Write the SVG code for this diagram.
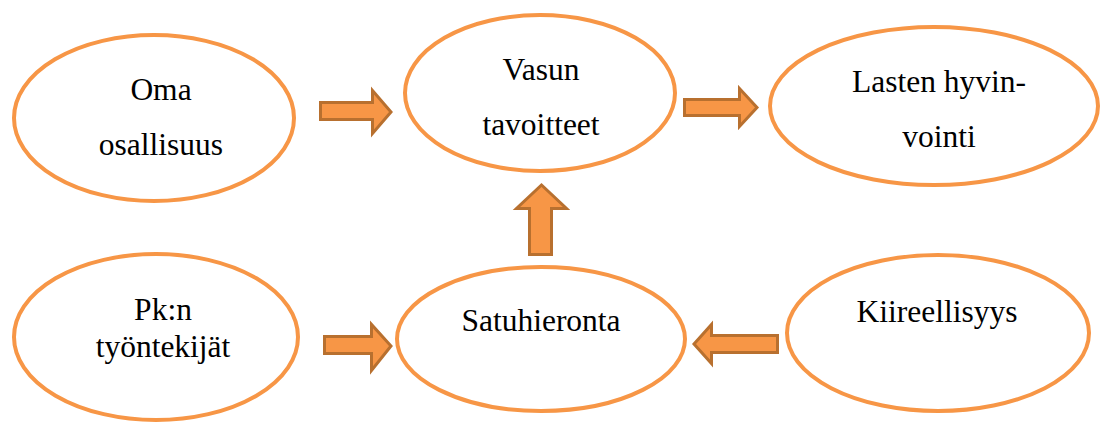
<svg xmlns="http://www.w3.org/2000/svg" width="1105" height="424" viewBox="0 0 1105 424">
<style>
.node ellipse{fill:#fff;stroke:#F79646;stroke-width:4}
.node text{font-size:31.5px;fill:#000;text-anchor:middle}
.arrow{fill:#F79646;stroke:#B8702F;stroke-width:3;stroke-linejoin:miter}
</style>
<rect width="1105" height="424" fill="#fff"/>
<g font-family="Liberation Serif, Times New Roman, DejaVu Serif, serif">
<g id="oma" class="node">
<ellipse cx="154" cy="118" rx="140" ry="83"/>
<text x="161" y="100">Oma</text>
<text x="161" y="155">osallisuus</text>
</g>
<g id="vasun" class="node">
<ellipse cx="540" cy="93" rx="135" ry="78"/>
<text x="541" y="80">Vasun</text>
<text x="541" y="135">tavoitteet</text>
</g>
<g id="lasten" class="node">
<ellipse cx="934" cy="106" rx="164" ry="79"/>
<text x="939" y="92">Lasten hyvin-</text>
<text x="939" y="147">vointi</text>
</g>
<g id="pkn" class="node">
<ellipse cx="156" cy="337" rx="142" ry="83"/>
<text x="163" y="320">Pk:n</text>
<text x="163" y="357">työntekijät</text>
</g>
<g id="satuhieronta" class="node">
<ellipse cx="541" cy="339" rx="144" ry="72"/>
<text x="541" y="331">Satuhieronta</text>
</g>
<g id="kiireellisyys" class="node">
<ellipse cx="938" cy="333" rx="151" ry="78"/>
<text x="937" y="322">Kiireellisyys</text>
</g>
</g>
<g id="connectors">
<path class="arrow" d="M320.5,102.5 H372.5 V90.5 L391,112 L372.5,133.5 V119.5 H320.5 Z"/>
<path class="arrow" d="M684.5,99.5 H739.5 V88.5 L757,107.5 L739.5,126.5 V115.5 H684.5 Z"/>
<path class="arrow" d="M529.5,254.5 V208.5 H516.5 L541.5,185 L566.5,208.5 H551.5 V254.5 Z"/>
<path class="arrow" d="M324.5,336.5 H371.5 V324.5 L391,346 L371.5,370.5 V353.5 H324.5 Z"/>
<path class="arrow" d="M777.5,335.5 H711.5 V324.5 L694,344 L711.5,363.5 V352.5 H777.5 Z"/>
</g>
</svg>
